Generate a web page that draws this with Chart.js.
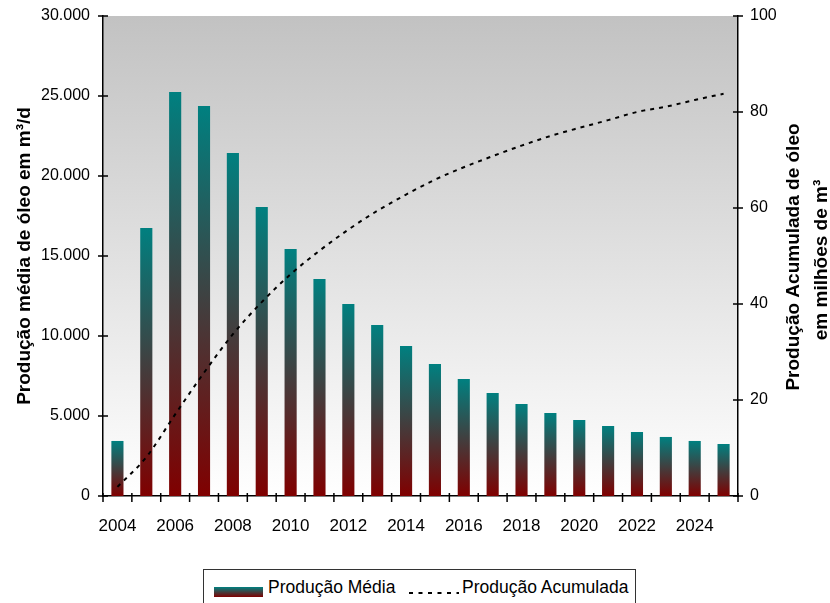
<!DOCTYPE html>
<html lang="pt-BR">
<head>
<meta charset="UTF-8">
<title>Produção de óleo</title>
<script src="https://cdn.jsdelivr.net/npm/chart.js"></script>
<style>
    html, body { margin: 0; padding: 0; background: #fff; overflow: hidden; }
    .painel { position: relative; width: 830px; height: 603px; }
    canvas { display: block; }
    .legenda {
        position: absolute; left: 203px; top: 569px; width: 431px; height: 50px;
        border: 1px solid #333; background: #fff;
        font-family: "Liberation Sans", Arial, sans-serif; font-size: 17.5px; color: #000;
    }
    .legenda span { position: absolute; top: 7px; line-height: 20px; white-space: nowrap; }
    .amostra-barra {
        position: absolute; left: 10px; top: 17px; width: 49px; height: 10px;
        background: linear-gradient(to bottom, #008080, #800000);
    }
    .legenda svg { position: absolute; left: 205px; top: 21px; }
</style>
</head>
<body>
<div class="painel">
    <canvas id="grafico" width="830" height="603"></canvas>
    <div class="legenda">
        <div class="amostra-barra"></div>
        <span style="left:64px">Produção Média</span>
        <svg width="50" height="4"><line x1="0" y1="2" x2="50" y2="2" stroke="#000" stroke-width="2" stroke-dasharray="4 5.5"/></svg>
        <span style="left:258px">Produção Acumulada</span>
    </div>
</div>

<script>
    // dados
    const anos = ['2004', '2005', '2006', '2007', '2008', '2009', '2010', '2011', '2012', '2013', '2014',
                  '2015', '2016', '2017', '2018', '2019', '2020', '2021', '2022', '2023', '2024', '2025'];
    // produção média (m3/d)
    const producaoMedia = [3440, 16750, 25250, 24375, 21440, 18060, 15440, 13560, 12000, 10690, 9375,
                           8250, 7310, 6440, 5750, 5190, 4750, 4375, 4000, 3690, 3440, 3250];
    // produção acumulada (milhões de m3)
    const producaoAcumulada = [1.9, 8.1, 17.0, 25.7, 33.7, 40.4, 46.2, 51.1, 55.5, 59.4, 62.8,
                               65.9, 68.5, 70.8, 73.0, 75.0, 76.7, 78.3, 80.0, 81.1, 82.5, 83.8];

    Chart.defaults.font.family = "'Liberation Sans', Arial, sans-serif";
    Chart.defaults.color = '#000';

    function milhar(v) {
        return String(v).replace(/\B(?=(\d{3})+(?!\d))/g, '.');
    }

    // cada barra com seu próprio degradê (verde-azulado no topo, vinho na base)
    function degradeBarra(context) {
        const chart = context.chart;
        if (!chart.chartArea || context.raw == null) return '#008080';
        const y = chart.scales.y;
        const topo = y.getPixelForValue(context.raw);
        const base = y.getPixelForValue(0);
        const g = chart.ctx.createLinearGradient(0, topo, 0, base);
        g.addColorStop(0, '#008080');
        g.addColorStop(1, '#800000');
        return g;
    }

    // fundo da área do gráfico, marcas dos eixos e título do eixo direito
    const acabamento = {
        id: 'acabamento',
        beforeDraw(chart) {
            const { ctx, chartArea: a } = chart;
            const g = ctx.createLinearGradient(0, a.top, 0, a.bottom);
            g.addColorStop(0, '#c2c2c2');
            g.addColorStop(1, '#ffffff');
            ctx.save();
            ctx.fillStyle = g;
            ctx.fillRect(a.left, a.top, a.right - a.left, a.bottom - a.top);
            ctx.restore();
        },
        afterDraw(chart) {
            const { ctx, chartArea: a, scales } = chart;
            ctx.save();
            ctx.strokeStyle = '#000';
            ctx.lineWidth = 1.5;
            ctx.beginPath();
            scales.y.ticks.forEach((t, i) => {
                const p = scales.y.getPixelForTick(i);
                ctx.moveTo(a.left - 5, p);
                ctx.lineTo(a.left + 5, p);
            });
            scales.y1.ticks.forEach((t, i) => {
                const p = scales.y1.getPixelForTick(i);
                ctx.moveTo(a.right - 5, p);
                ctx.lineTo(a.right + 5, p);
            });
            const n = anos.length;
            const passo = (a.right - a.left) / n;
            for (let i = 0; i <= n; i++) {
                const px = a.left + i * passo;
                ctx.moveTo(px, a.bottom - 3);
                ctx.lineTo(px, a.bottom + 6);
            }
            ctx.stroke();

            ctx.font = "bold 19px 'Liberation Sans', Arial, sans-serif";
            ctx.fillStyle = '#000';
            ctx.textAlign = 'center';
            ctx.textBaseline = 'alphabetic';
            ctx.translate(799, 257);
            ctx.rotate(-Math.PI / 2);
            ctx.fillText('Produção Acumulada de óleo', 0, 0);
            ctx.fillText('em milhões de m³', -3, 28);
            ctx.restore();
        }
    };

    // os eixos verticais não reservam espaço extra acima/abaixo
    function semFolga(s, largura) {
        s.width = largura;
        s.paddingTop = 0;
        s.paddingBottom = 0;
    }

    new Chart(document.getElementById('grafico'), {
        data: {
            labels: anos,
            datasets: [
                {
                    type: 'line',
                    label: 'Produção Acumulada',
                    data: producaoAcumulada,
                    yAxisID: 'y1',
                    borderColor: '#000',
                    borderWidth: 2,
                    borderDash: [4, 5],
                    pointRadius: 0,
                    fill: false,
                    cubicInterpolationMode: 'monotone',
                    order: 1
                },
                {
                    type: 'bar',
                    label: 'Produção Média',
                    data: producaoMedia,
                    yAxisID: 'y',
                    backgroundColor: degradeBarra,
                    borderWidth: 0,
                    categoryPercentage: 1,
                    barPercentage: 0.42,
                    order: 2
                }
            ]
        },
        options: {
            responsive: false,
            animation: false,
            layout: { padding: { top: 16, left: 0, right: 0, bottom: 0 } },
            plugins: {
                legend: { display: false },
                tooltip: { enabled: false }
            },
            scales: {
                x: {
                    grid: { display: false, drawTicks: false },
                    border: { display: true, color: '#000', width: 1.5 },
                    ticks: {
                        autoSkip: false,
                        maxRotation: 0,
                        padding: 20,
                        font: { size: 17 },
                        callback: function (v, i) { return i % 2 === 0 ? anos[i] : ''; }
                    },
                    afterFit: function (s) { s.height = 107; s.paddingLeft = 0; s.paddingRight = 0; }
                },
                y: {
                    position: 'left',
                    min: 0,
                    max: 30000,
                    grid: { display: false, drawTicks: false },
                    border: { display: true, color: '#000', width: 1.5 },
                    ticks: {
                        stepSize: 5000,
                        padding: 13,
                        font: { size: 16 },
                        callback: function (v) { return milhar(v); }
                    },
                    title: {
                        display: true,
                        text: 'Produção média de óleo em m³/d',
                        font: { size: 19, weight: 'bold' },
                        padding: { top: 13, bottom: 0 }
                    },
                    afterFit: function (s) { semFolga(s, 103); }
                },
                y1: {
                    position: 'right',
                    min: 0,
                    max: 100,
                    grid: { display: false, drawTicks: false },
                    border: { display: true, color: '#000', width: 1.5 },
                    ticks: {
                        stepSize: 20,
                        padding: 12,
                        font: { size: 16 }
                    },
                    afterFit: function (s) { semFolga(s, 92); }
                }
            }
        },
        plugins: [acabamento]
    });
</script>
</body>
</html>
